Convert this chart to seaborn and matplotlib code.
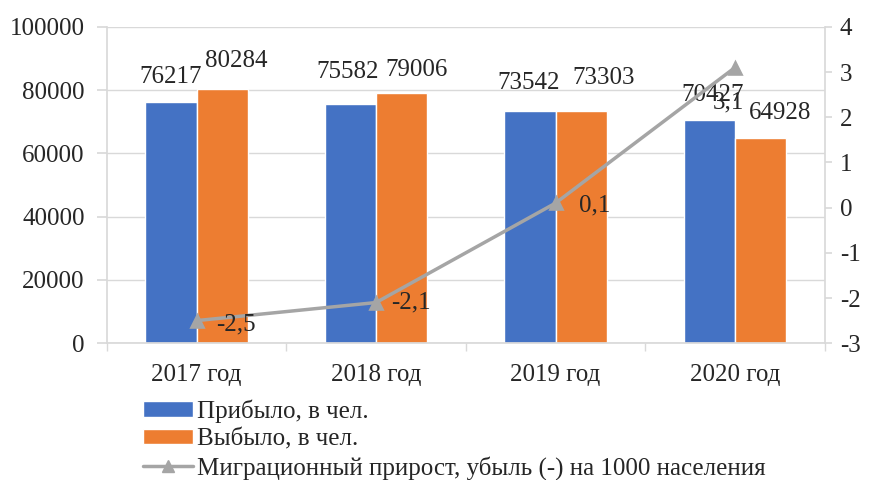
import pandas as pd
import matplotlib.pyplot as plt
import seaborn as sns

# chart data
years = ['2017 год', '2018 год', '2019 год', '2020 год']
arrived = [76217, 75582, 73542, 70427]
left = [80284, 79006, 73303, 64928]
migration = [-2.5, -2.1, 0.1, 3.1]
migration_labels = ['-2,5', '-2,1', '0,1', '3,1']

name_in = 'Прибыло, в чел.'
name_out = 'Выбыло, в чел.'
name_mig = 'Миграционный прирост, убыль (-) на 1000 населения'

FS = 18
TXT = '#262626'
GRID = '#D9D9D9'

sns.set_theme(style='white')
plt.rcParams['font.family'] = ['Liberation Serif', 'DejaVu Serif']

df = pd.DataFrame({
    'year': years * 2,
    'value': arrived + left,
    'series': [name_in] * 4 + [name_out] * 4,
})

fig = plt.figure(figsize=(8.69, 4.8), dpi=100)
ax = fig.add_axes([0.123, 0.285, 0.826, 0.659])

sns.barplot(data=df, x='year', y='value', hue='series', ax=ax,
            palette=['#4472C4', '#ED7D31'], width=0.57, saturation=1,
            legend=True)

ax.set_ylim(0, 100000)
ax.set_xlim(-0.5, 3.5)
ax.set_yticks(range(0, 100001, 20000))
ax.yaxis.grid(True, color=GRID, linewidth=1)
ax.set_axisbelow(True)
ax.set_xlabel('')
ax.set_ylabel('')
ax.tick_params(axis='y', labelsize=FS, labelcolor=TXT, color=GRID,
               left=True, length=7, pad=9)
ax.tick_params(axis='x', labelsize=FS, labelcolor=TXT, length=0, pad=15)
ax.set_xticks([-0.5, 0.5, 1.5, 2.5, 3.5], minor=True)
ax.tick_params(axis='x', which='minor', bottom=True, length=6, color=GRID)
for s in ['top', 'right']:
    ax.spines[s].set_visible(False)
for s in ['left', 'bottom']:
    ax.spines[s].set_color(GRID)

# bar value labels (offsets in points from the bar top centre)
bar_offsets = [
    [(0, 18), (-2, 23), (-1, 20), (2, 18)],
    [(10, 20), (11, 17), (16, 24), (14, 18)],
]
for cont, offs in zip(ax.containers, bar_offsets):
    for bar, v, o in zip(cont, cont.datavalues, offs):
        ax.annotate(f'{int(v)}', (bar.get_x() + bar.get_width() / 2, bar.get_height()),
                    xytext=o, textcoords='offset points', ha='center', va='center',
                    fontsize=FS, color=TXT)

# line on the secondary axis
ax2 = ax.twinx()
sns.pointplot(x=years, y=migration, ax=ax2, color='#A5A5A5', markers='^',
              markersize=9, linewidth=2.5)
ax2.set_xlim(-0.5, 3.5)
ax2.set_ylim(-3, 4)
ax2.set_yticks(range(-3, 5))
ax2.set_yticklabels([str(t) for t in range(-3, 5)])
ax2.tick_params(axis='y', labelsize=FS, labelcolor=TXT, color=GRID, length=5, pad=6)
for s in ['top', 'left', 'bottom']:
    ax2.spines[s].set_visible(False)
ax2.spines['right'].set_color(GRID)

mig_offsets = [(14, -3), (11, 0), (17, -2), (-5, -25)]
for i, (v, lab) in enumerate(zip(migration, migration_labels)):
    ax2.annotate(lab, (i, v), xytext=mig_offsets[i], textcoords='offset points',
                 ha='left' if i < 3 else 'center', va='center', fontsize=FS, color=TXT)

# legend below the plot
handles, labels = ax.get_legend_handles_labels()
ax.get_legend().remove()
line_handle = plt.Line2D([], [], color='#A5A5A5', marker='^', markersize=9, linewidth=2.5)
fig.legend(handles + [line_handle], [name_in, name_out, name_mig],
           loc='upper left', bbox_to_anchor=(0.165, 0.168), frameon=False,
           fontsize=FS, handlelength=2.0, handleheight=0.55, handletextpad=0.15,
           labelspacing=0.22, borderaxespad=0, borderpad=0)

fig.savefig('out.png', dpi=100)
